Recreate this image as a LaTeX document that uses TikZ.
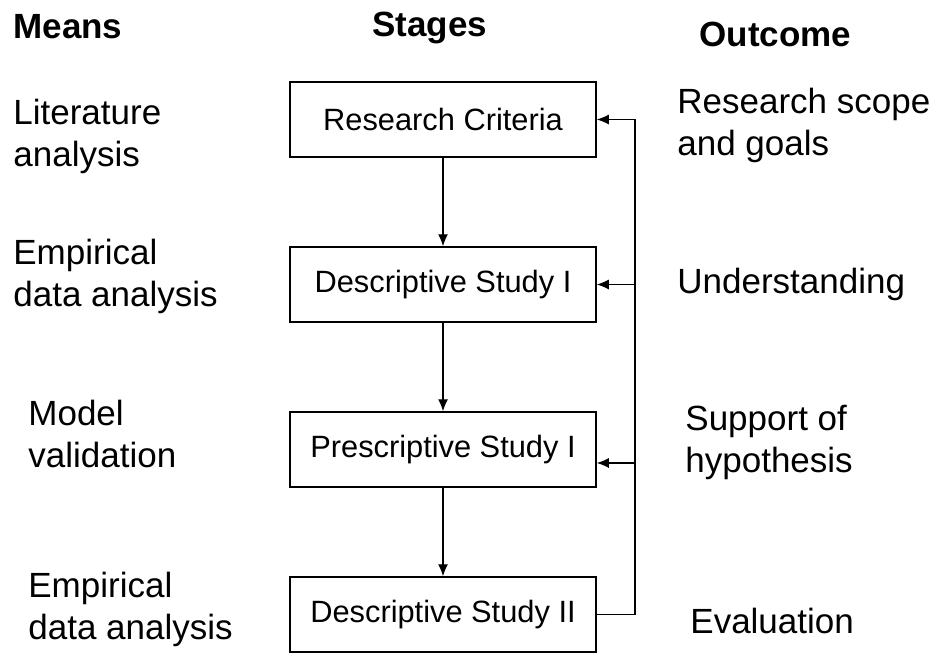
\documentclass[tikz,border=0pt]{standalone}
\usepackage{fontspec}
\setmainfont{Liberation Sans}
\usetikzlibrary{arrows.meta,positioning}

\begin{document}
\begin{tikzpicture}[x=0.5pt,y=-0.5pt,
  stage/.style={draw,line width=0.75pt,minimum width=153pt,minimum height=37.5pt,inner sep=0pt,font=\fontsize{15.4}{19}\selectfont},
  side/.style={anchor=base west,align=left,inner sep=0pt,font=\fontsize{17.5}{21}\selectfont},
  head/.style={anchor=base west,inner sep=0pt,font=\bfseries\fontsize{17.5}{21}\selectfont},
  flow/.style={-{Latex[length=6pt,width=5pt]},line width=0.65pt},
  node distance=44.25pt]
\useasboundingbox (0,0) rectangle (941,654);

\node[head] (means) at (13,38) {Means};
\node[head] (stages) at (372,36) {Stages};
\node[head] (outcome) at (699,46) {Outcome};

\node[stage] (rc) at (443,119.5) {Research Criteria};
\node[stage,below=of rc] (ds1) {Descriptive Study I};
\node[stage,below=of ds1] (ps) {Prescriptive Study I};
\node[stage,below=of ps] (ds2) {Descriptive Study II};

\node[side] (lit) at (13,166) {Literature\\analysis};
\node[side] (emp1) at (13,306) {Empirical\\data analysis};
\node[side] (val) at (28,467) {Model\\validation};
\node[side] (emp2) at (28,639) {Empirical\\data analysis};

\node[side] (scope) at (677,155) {Research scope\\and goals};
\node[side] (und) at (677,293) {Understanding};
\node[side] (supp) at (685,472) {Support of\\hypothesis};
\node[side] (eval) at (690,633) {Evaluation};

\draw[flow] (rc) -- (ds1);
\draw[flow] (ds1) -- (ps);
\draw[flow] (ps) -- (ds2);

\coordinate (fb) at (635,0);
\coordinate (fb3) at (635,463);
\draw[flow] (ds2.east) -| (fb |- rc.east) -- (rc.east);
\draw[flow] (fb |- ds1.east) -- (ds1.east);
\draw[flow] (fb3) -- (fb3 -| ps.east);

\end{tikzpicture}
\end{document}
